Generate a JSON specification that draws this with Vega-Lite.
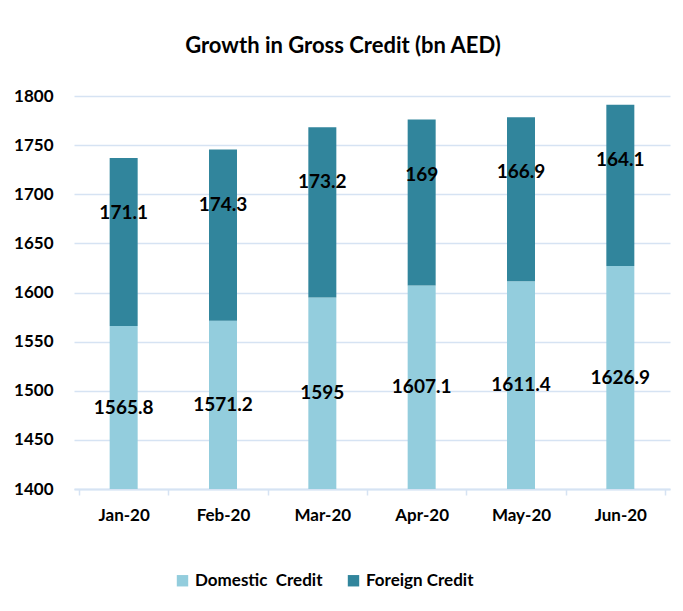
{
  "$schema": "https://vega.github.io/schema/vega-lite/v6.json",
  "width": 596,
  "height": 393,
  "autosize": {"type": "none"},
  "padding": {"left": 74, "top": 96, "right": 13, "bottom": 122},
  "background": "white",
  "title": {"text": "Growth in Gross Credit (bn AED)", "font": "Lato", "fontSize": 22, "fontWeight": "bold", "color": "black", "anchor": "middle", "dx": -29, "offset": 29},
  "config": {"view": {"stroke": null}},
  "data": {"values": [
    {"month": "Jan-20", "type": "Domestic\u00a0 Credit", "value": 1565.8},
    {"month": "Jan-20", "type": "Foreign Credit", "value": 171.1},
    {"month": "Feb-20", "type": "Domestic\u00a0 Credit", "value": 1571.2},
    {"month": "Feb-20", "type": "Foreign Credit", "value": 174.3},
    {"month": "Mar-20", "type": "Domestic\u00a0 Credit", "value": 1595},
    {"month": "Mar-20", "type": "Foreign Credit", "value": 173.2},
    {"month": "Apr-20", "type": "Domestic\u00a0 Credit", "value": 1607.1},
    {"month": "Apr-20", "type": "Foreign Credit", "value": 169},
    {"month": "May-20", "type": "Domestic\u00a0 Credit", "value": 1611.4},
    {"month": "May-20", "type": "Foreign Credit", "value": 166.9},
    {"month": "Jun-20", "type": "Domestic\u00a0 Credit", "value": 1626.9},
    {"month": "Jun-20", "type": "Foreign Credit", "value": 164.1}
  ]},
  "transform": [
    {"stack": "value", "groupby": ["month"], "as": ["v0", "v1"], "sort": [{"field": "type", "order": "ascending"}]},
    {"calculate": "datum.type === 'Foreign Credit' ? datum.v1 - 56 : (1400 + datum.v1) / 2", "as": "labelPos"}
  ],
  "encoding": {
    "x": {"field": "month", "type": "nominal", "sort": null, "title": null,
      "axis": {"labelAngle": 0, "labelFont": "Lato", "labelFontSize": 17, "labelFontWeight": "bold", "labelColor": "black", "labelPadding": 12,
        "tickBand": "extent", "tickColor": "#d6e3f3", "tickSize": 6, "tickWidth": 1.5, "domainColor": "#d6e3f3", "domainWidth": 2, "grid": false}}
  },
  "layer": [
    {"mark": {"type": "bar", "size": 28, "clip": true},
      "encoding": {
        "y": {"field": "v0", "type": "quantitative", "scale": {"domain": [1400, 1800], "nice": false, "zero": false}, "title": null,
          "axis": {"values": [1400, 1450, 1500, 1550, 1600, 1650, 1700, 1750, 1800], "format": "d", "labelFont": "Lato", "labelFontSize": 17, "labelFontWeight": "bold", "labelColor": "black", "labelPadding": 21, "ticks": false, "domain": false, "gridColor": "#d6e3f3", "gridWidth": 1.5}},
        "y2": {"field": "v1"},
        "color": {"field": "type", "type": "nominal", "scale": {"domain": ["Domestic\u00a0 Credit", "Foreign Credit"], "range": ["#93cddd", "#31859c"]},
          "legend": {"title": null, "orient": "none", "legendX": 100, "legendY": 476, "direction": "horizontal", "symbolType": "square", "symbolSize": 130, "symbolStrokeWidth": 0, "labelFont": "Lato", "labelFontSize": 17, "labelFontWeight": "bold", "labelColor": "black", "columnPadding": 22, "labelOffset": 4}}
      }},
    {"mark": {"type": "text", "font": "Lato", "fontSize": 19, "fontWeight": "bold", "color": "black"},
      "encoding": {
        "y": {"field": "labelPos", "type": "quantitative"},
        "text": {"field": "value", "type": "nominal"}
      }}
  ]
}
